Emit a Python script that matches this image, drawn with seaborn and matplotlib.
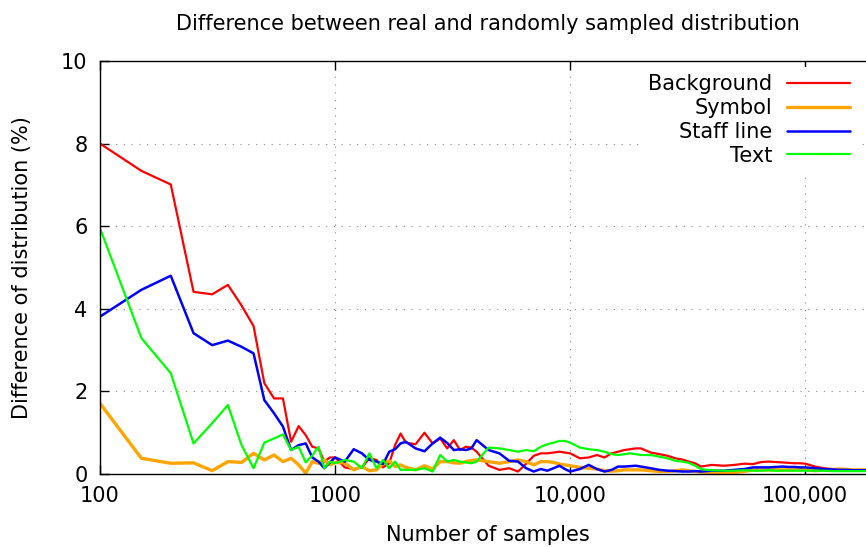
import numpy as np
import pandas as pd
import matplotlib
matplotlib.use("Agg")
import matplotlib.pyplot as plt
from matplotlib.ticker import FixedLocator, FixedFormatter, NullLocator
import seaborn as sns

# ---------------- data ----------------
samples = [100, 150, 200, 250, 300, 350, 400, 450, 500, 550, 600, 650, 700, 750, 800, 850, 900, 950, 1000,
           1100, 1200, 1300, 1400, 1500, 1600, 1700, 1800, 1900, 2000,
           2200, 2400, 2600, 2800, 3000, 3200, 3400, 3600, 3800, 4000,
           4500, 5000, 5500, 6000, 6500, 7000, 7500, 8000, 8500, 9000, 9500, 10000,
           11000, 12000, 13000, 14000, 15000, 16000, 17000, 18000, 19000, 20000,
           22000, 24000, 26000, 28000, 30000, 32000, 34000, 36000, 38000, 40000,
           45000, 50000, 55000, 60000, 65000, 70000, 75000, 80000, 85000, 90000, 95000, 100000,
           110000, 120000, 130000, 140000, 150000, 160000, 170000, 180000, 190000, 200000]

background = [8.00, 7.34, 7.01, 4.41, 4.35, 4.58, 4.08, 3.58, 2.20, 1.83, 1.83, 0.78, 1.16, 0.94, 0.66, 0.62, 0.30, 0.40, 0.40,
              0.16, 0.12, 0.16, 0.38, 0.34, 0.16, 0.26, 0.70, 0.98, 0.76,
              0.72, 1.00, 0.74, 0.86, 0.62, 0.82, 0.58, 0.66, 0.64, 0.54,
              0.20, 0.10, 0.14, 0.06, 0.25, 0.44, 0.50, 0.50, 0.52, 0.54, 0.52, 0.50,
              0.38, 0.40, 0.46, 0.40, 0.50, 0.54, 0.58, 0.60, 0.62, 0.62,
              0.52, 0.48, 0.44, 0.38, 0.35, 0.30, 0.26, 0.18, 0.20, 0.22,
              0.20, 0.22, 0.25, 0.24, 0.29, 0.30, 0.29, 0.28, 0.27, 0.26, 0.26, 0.25,
              0.18, 0.14, 0.12, 0.11, 0.10, 0.10, 0.09, 0.10, 0.10, 0.10]

symbol = [1.71, 0.38, 0.26, 0.27, 0.08, 0.30, 0.28, 0.50, 0.34, 0.46, 0.30, 0.38, 0.22, 0.02, 0.30, 0.26, 0.34, 0.22, 0.28,
          0.27, 0.10, 0.18, 0.08, 0.10, 0.25, 0.32, 0.18, 0.22, 0.16,
          0.10, 0.20, 0.12, 0.30, 0.30, 0.27, 0.26, 0.30, 0.33, 0.34,
          0.30, 0.26, 0.30, 0.34, 0.30, 0.22, 0.30, 0.30, 0.28, 0.24, 0.22, 0.20,
          0.16, 0.14, 0.12, 0.08, 0.07, 0.08, 0.10, 0.10, 0.10, 0.10,
          0.08, 0.06, 0.06, 0.08, 0.10, 0.08, 0.06, 0.05, 0.04, 0.03,
          0.02, 0.04, 0.06, 0.10, 0.10, 0.10, 0.10, 0.10, 0.10, 0.10, 0.12, 0.11,
          0.08, 0.10, 0.11, 0.12, 0.11, 0.10, 0.10, 0.10, 0.10, 0.10]

staff_line = [3.81, 4.46, 4.80, 3.41, 3.12, 3.23, 3.08, 2.92, 1.79, 1.47, 1.15, 0.58, 0.70, 0.74, 0.40, 0.30, 0.14, 0.28, 0.40,
              0.30, 0.60, 0.50, 0.34, 0.30, 0.24, 0.54, 0.60, 0.74, 0.78,
              0.62, 0.55, 0.74, 0.88, 0.75, 0.58, 0.60, 0.58, 0.62, 0.82,
              0.58, 0.50, 0.32, 0.30, 0.14, 0.06, 0.12, 0.08, 0.14, 0.20, 0.12, 0.06,
              0.12, 0.22, 0.12, 0.06, 0.10, 0.18, 0.18, 0.19, 0.20, 0.18,
              0.14, 0.10, 0.08, 0.07, 0.06, 0.06, 0.07, 0.06, 0.07, 0.08,
              0.08, 0.10, 0.12, 0.16, 0.16, 0.16, 0.17, 0.18, 0.17, 0.17, 0.16, 0.16,
              0.14, 0.12, 0.11, 0.10, 0.10, 0.09, 0.09, 0.09, 0.09, 0.09]

text_cls = [5.95, 3.29, 2.44, 0.74, 1.23, 1.67, 0.70, 0.14, 0.76, 0.86, 0.96, 0.58, 0.66, 0.28, 0.45, 0.66, 0.14, 0.30, 0.26,
            0.34, 0.30, 0.14, 0.50, 0.14, 0.34, 0.14, 0.30, 0.10, 0.10,
            0.10, 0.14, 0.06, 0.46, 0.30, 0.34, 0.30, 0.28, 0.26, 0.30,
            0.64, 0.62, 0.58, 0.54, 0.58, 0.55, 0.66, 0.72, 0.76, 0.80, 0.80, 0.76,
            0.64, 0.60, 0.58, 0.54, 0.48, 0.46, 0.48, 0.50, 0.48, 0.46,
            0.46, 0.42, 0.38, 0.32, 0.30, 0.27, 0.20, 0.12, 0.10, 0.09,
            0.08, 0.08, 0.09, 0.08, 0.08, 0.09, 0.08, 0.08, 0.08, 0.08, 0.08, 0.08,
            0.08, 0.08, 0.07, 0.07, 0.07, 0.07, 0.07, 0.07, 0.07, 0.07]

series_names = ["Background", "Symbol", "Staff line", "Text"]
series_values = [background, symbol, staff_line, text_cls]
series_colors = ["#ff0000", "#ffa500", "#0000ff", "#00ff00"]
series_widths = [1.6, 2.4, 1.8, 1.6]

x_tick_values = [100, 1000, 10000, 100000]
x_tick_labels = ["100", "1000", "10,000", "100,000"]
y_tick_values = [0, 2, 4, 6, 8, 10]

title = "Difference between real and randomly sampled distribution"
xlabel = "Number of samples"
ylabel = "Difference of distribution (%)"

# ---------------- plotting ----------------
sns.set_style("ticks")
plt.rcParams["font.family"] = ["DejaVu Sans"]
plt.rcParams["text.color"] = "black"
plt.rcParams["axes.labelcolor"] = "black"
plt.rcParams["xtick.color"] = "black"
plt.rcParams["ytick.color"] = "black"
FS = 15

fig = plt.figure(figsize=(8.66, 5.47), dpi=100)
ax = fig.add_axes([100 / 866, 73 / 547, 776 / 866, 413 / 547])

for name, vals, col, lw in zip(series_names, series_values, series_colors, series_widths):
    df = pd.DataFrame({"samples": samples, "diff": vals})
    sns.lineplot(data=df, x="samples", y="diff", ax=ax, color=col, linewidth=lw,
                 label=name, estimator=None, sort=False)

ax.set_xscale("log")
ax.set_xlim(100, 200000)
ax.set_ylim(0, 10)

ax.xaxis.set_major_locator(FixedLocator(x_tick_values))
ax.xaxis.set_major_formatter(FixedFormatter(x_tick_labels))
ax.xaxis.set_minor_locator(NullLocator())
ax.set_yticks(y_tick_values)
ax.set_yticklabels([str(v) for v in y_tick_values])

ax.tick_params(axis="both", which="major", direction="in", length=6.5, width=1,
               top=True, right=True, labelsize=FS, colors="black")
ax.tick_params(axis="x", which="major", pad=9)
ax.tick_params(axis="y", which="major", pad=9)

for sp in ax.spines.values():
    sp.set_color("black")
    sp.set_linewidth(1.0)

ax.grid(True, which="major", axis="both", color="#8c8c8c", linewidth=0.8,
        linestyle=(0, (1, 6)))
ax.set_axisbelow(True)

ax.set_title(title, fontsize=FS, pad=22, color="black")
ax.set_xlabel(xlabel, fontsize=FS, color="black")
ax.set_ylabel(ylabel, fontsize=FS, color="black")
ax.xaxis.set_label_coords(0.5, -0.124)
ax.yaxis.set_label_coords(-0.088, 0.5)

leg = ax.legend(loc="upper right", bbox_to_anchor=(857 / 866, (547 - 67) / 547),
                bbox_transform=fig.transFigure, borderaxespad=0, frameon=True,
                facecolor="white", edgecolor="none", framealpha=1, fancybox=False,
                markerfirst=False, handlelength=3.0, handletextpad=0.7,
                labelspacing=0.18, borderpad=0.35, fontsize=FS)
for lh, lw in zip(leg.get_lines(), series_widths):
    lh.set_linewidth(lw)
for t in leg.get_texts():
    t.set_color("black")

fig.savefig("out.png", dpi=100)
